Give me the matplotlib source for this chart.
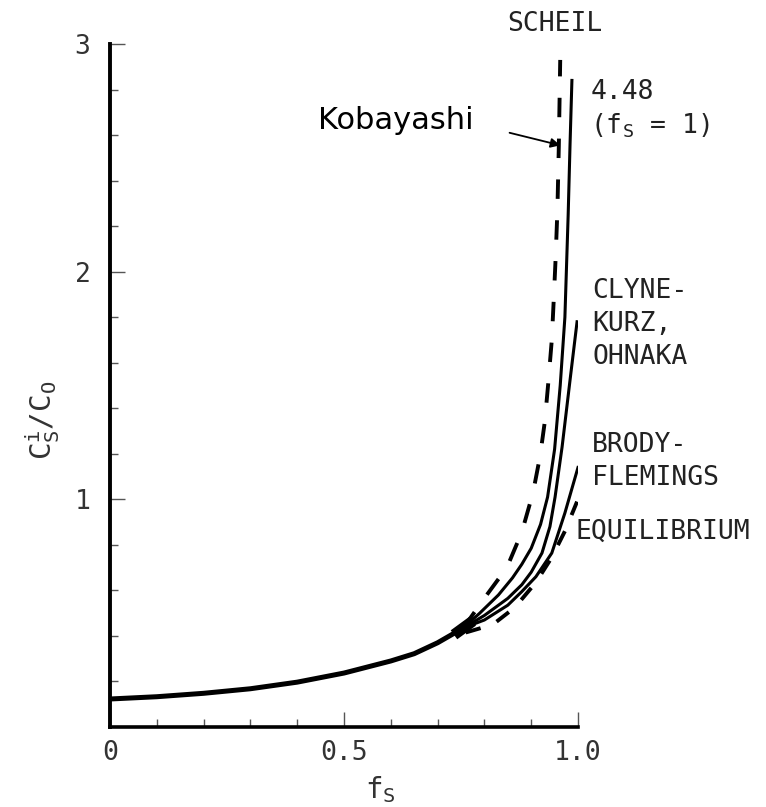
import numpy as np
import matplotlib
matplotlib.use("Agg")
import matplotlib.pyplot as plt

plt.rcParams['mathtext.fontset'] = 'custom'
plt.rcParams['mathtext.rm'] = 'DejaVu Sans Mono'
plt.rcParams['mathtext.it'] = 'DejaVu Sans Mono'

# shared low-fs part of all curves
fs_common = [0.0, 0.1, 0.2, 0.3, 0.4, 0.5, 0.6, 0.65, 0.7, 0.755]
c_common = [0.123, 0.133, 0.148, 0.168, 0.197, 0.237, 0.29, 0.322, 0.37, 0.435]

# where the curves overlap into a dark blob
fs_blob = [0.735, 0.775]
c_blob = [0.405, 0.465]

# branches above fs ~ 0.75
fs_scheil = [0.755, 0.80, 0.848, 0.88, 0.904, 0.919, 0.929, 0.936, 0.944, 0.948, 0.952, 0.956, 0.959, 0.962]
c_scheil = [0.435, 0.566, 0.70, 0.856, 1.03, 1.19, 1.34, 1.50, 1.70, 1.87, 2.05, 2.27, 2.55, 2.93]

fs_koba = [0.755, 0.79, 0.83, 0.86, 0.88, 0.90, 0.92, 0.935, 0.95, 0.962, 0.972, 0.979, 0.983, 0.987]
c_koba = [0.435, 0.50, 0.58, 0.655, 0.715, 0.785, 0.89, 1.01, 1.22, 1.50, 1.80, 2.25, 2.56, 2.84]

fs_clyne = [0.755, 0.80, 0.85, 0.88, 0.90, 0.923, 0.94, 0.951, 0.966, 0.983, 0.998]
c_clyne = [0.435, 0.49, 0.565, 0.625, 0.68, 0.764, 0.88, 1.01, 1.23, 1.524, 1.78]

fs_brody = [0.755, 0.80, 0.85, 0.88, 0.91, 0.944, 0.972, 1.0]
c_brody = [0.435, 0.47, 0.535, 0.595, 0.66, 0.764, 0.94, 1.14]

fs_equil = [0.76, 0.818, 0.865, 0.91, 0.944, 0.972, 0.998]
c_equil = [0.415, 0.45, 0.525, 0.635, 0.745, 0.86, 0.99]

x_major = [0, 0.5, 1.0]
x_labels = ['0', '0.5', '1.0']
y_major = [1, 2, 3]
y_labels = ['1', '2', '3']

fig = plt.figure(figsize=(7.66, 8.07), dpi=100)
ax = fig.add_axes([110 / 766, 1 - 727 / 807, 468 / 766, 683 / 807])

ax.plot(fs_common, c_common, color='black', lw=3.6, solid_capstyle='butt')
ax.plot(fs_blob, c_blob, color='black', lw=8, solid_capstyle='butt')
ax.plot(fs_scheil, c_scheil, color='black', lw=2.8, linestyle=(0, (5, 5.5)))
ax.plot(fs_koba, c_koba, color='black', lw=2.2)
ax.plot(fs_clyne, c_clyne, color='black', lw=2.2)
ax.plot(fs_brody, c_brody, color='black', lw=2.2)
ax.plot(fs_equil, c_equil, color='black', lw=2.8, linestyle=(0, (4, 4.5)))

ax.set_xlim(0, 1.0)
ax.set_ylim(0, 3)
ax.spines['top'].set_visible(False)
ax.spines['right'].set_visible(False)
ax.spines['left'].set_linewidth(2.8)
ax.spines['bottom'].set_linewidth(2.6)

ax.set_xticks(x_major)
ax.set_xticklabels(x_labels)
ax.set_xticks(np.arange(0.1, 1.0, 0.1), minor=True)
ax.set_yticks(y_major)
ax.set_yticklabels(y_labels)
ax.set_yticks(np.arange(0.2, 3.0, 0.2), minor=True)
ax.tick_params(which='both', direction='in', width=1.0, color='#555555')
ax.tick_params(which='major', length=11)
ax.tick_params(which='minor', length=6)
ax.tick_params(axis='x', pad=9, labelsize=19, labelcolor='#333333')
ax.tick_params(axis='y', pad=14, labelsize=19, labelcolor='#333333')
for lab in ax.get_xticklabels() + ax.get_yticklabels():
    lab.set_family('DejaVu Sans Mono')

mono = dict(family='DejaVu Sans Mono', fontsize=19, color='#222222', clip_on=False)
ax.text(0.951, 3.09, 'SCHEIL', ha='center', va='center', **mono)
ax.text(1.026, 2.79, '4.48', ha='left', va='center', **mono)
ax.text(1.026, 2.64, '(f$_\\mathrm{S}$ = 1)', ha='left', va='center', **mono)
ax.text(1.03, 1.97, 'CLYNE-\nKURZ,\nOHNAKA', ha='left', va='top', linespacing=1.33, **mono)
ax.text(1.03, 1.295, 'BRODY-\nFLEMINGS', ha='left', va='top', linespacing=1.35, **mono)
ax.text(0.995, 0.856, 'EQUILIBRIUM', ha='left', va='center', **mono)

ax.text(0.444, 2.666, 'Kobayashi', ha='left', va='center', family='DejaVu Sans',
        fontsize=22, color='black')
ax.annotate('', xy=(0.968, 2.552), xytext=(0.848, 2.613),
            arrowprops=dict(arrowstyle='-|>', color='black', lw=1.3, mutation_scale=14))

fig.text(380 / 766, 1 - 790 / 807, 'f$_\\mathrm{S}$', ha='center', va='center',
         family='DejaVu Sans Mono', fontsize=21, color='#333333')
fig.text(43 / 766, 1 - 420 / 807, 'C$_\\mathrm{S}^\\mathrm{i}$/C$_\\mathrm{O}$', ha='center', va='center',
         rotation=90, family='DejaVu Sans Mono', fontsize=21, color='#333333')

fig.savefig('out.png', dpi=100)
